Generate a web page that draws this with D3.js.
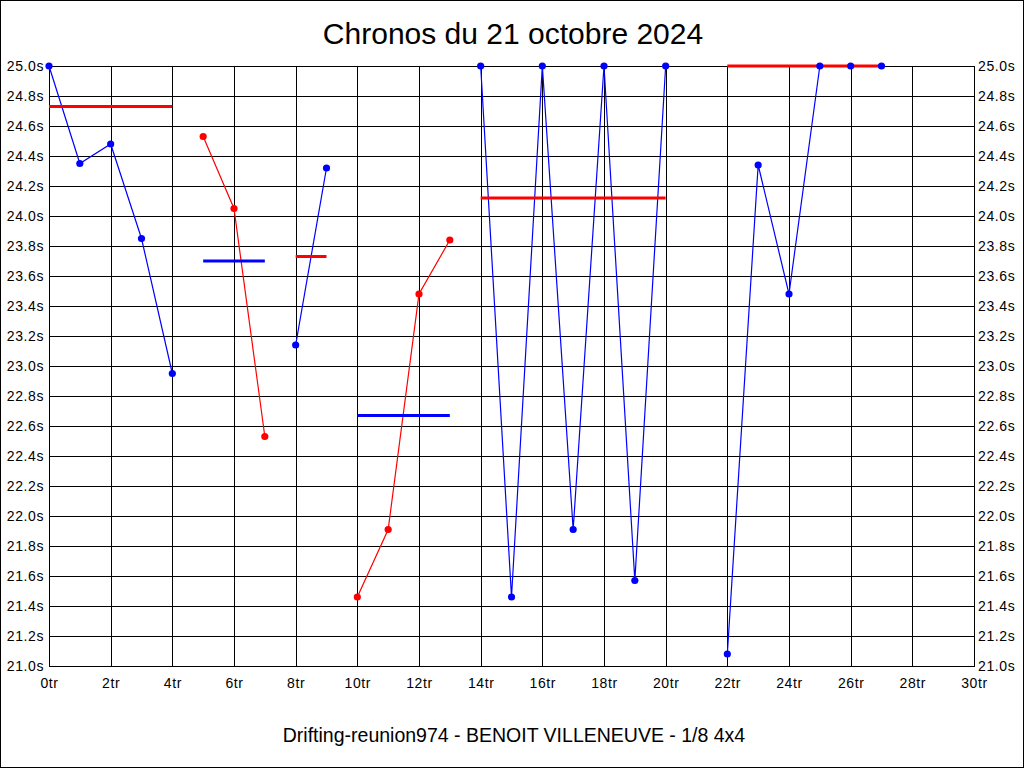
<!DOCTYPE html>
<html>
<head>
<meta charset="utf-8">
<script src="https://cdn.jsdelivr.net/npm/d3@7"></script>
<style>
  body { margin: 0; background: #fff; }
  svg { display: block; }
  text { font-family: "Liberation Sans", Arial, sans-serif; }
</style>
</head>
<body>
<div class="chrono"></div>
<script>
var title = "Chronos du 21 octobre 2024";
var subtitle = "Drifting-reunion974 - BENOIT VILLENEUVE - 1/8 4x4";

// each run: lap times, first lap index, reference line and colours
var run1 = [25.0, 24.35, 24.48, 23.85, 22.95];
var run2 = [24.53, 24.05, 22.53];
var run3 = [23.14, 24.32];
var run4 = [21.46, 21.91, 23.48, 23.84];
var run5 = [25.0, 21.46, 25.0, 21.91, 25.0, 21.57, 25.0];
var run6 = [21.08, 24.34, 23.48, 25.0, 25.0, 25.0];
var runStarts = [0, 5, 8, 10, 14, 22];
var runRefs = [24.73, 23.70, 23.73, 22.67, 24.12, 25.0];
var runColors = ["#0000ff", "#ff0000", "#0000ff", "#ff0000", "#0000ff", "#0000ff"];
var refColors = ["#ff0000", "#0000ff", "#ff0000", "#0000ff", "#ff0000", "#ff0000"];
var xTicks = d3.range(0, 31, 2);
var yTicks = d3.range(21.0, 25.01, 0.2);

var runs = [run1, run2, run3, run4, run5, run6].map(function(v, i){
    return {
        laps: v.map(function(t, j){ return {lap: runStarts[i] + j, t: t}; }),
        ref: runRefs[i],
        color: runColors[i],
        refColor: refColors[i]
    };
});

var W = 1024, H = 768;
var margin = {top: 66, right: 50, bottom: 102, left: 49};
var width = W - margin.left - margin.right,
    height = H - margin.top - margin.bottom;

var x = d3.scaleLinear().domain([0, 30]).range([0, width]);
var y = d3.scaleLinear().domain([21, 25]).range([height, 0]);

var svg = d3.select(".chrono").append("svg").attr("width", W).attr("height", H);
svg.append("rect").attr("x", 0.5).attr("y", 0.5).attr("width", W - 1).attr("height", H - 1)
    .attr("fill", "#fff").attr("stroke", "#000");

svg.append("text").attr("x", W / 2 + 1).attr("y", 44).attr("text-anchor", "middle")
    .attr("font-size", 30).text(title);
svg.append("text").attr("x", W / 2 + 2).attr("y", 742).attr("text-anchor", "middle")
    .attr("font-size", 19.5).text(subtitle);

var canvas = svg.append("g").attr("transform", "translate(" + margin.left + "," + margin.top + ")");

// grid
canvas.append("g").selectAll("line").data(xTicks).enter().append("line")
    .attr("x1", function(d){ return Math.round(x(d)) + 0.5; })
    .attr("x2", function(d){ return Math.round(x(d)) + 0.5; })
    .attr("y1", 0).attr("y2", height).attr("stroke", "#000");
canvas.append("g").selectAll("line").data(yTicks).enter().append("line")
    .attr("y1", function(d){ return Math.round(y(d)) + 0.5; })
    .attr("y2", function(d){ return Math.round(y(d)) + 0.5; })
    .attr("x1", 0).attr("x2", width).attr("stroke", "#000");

// frame
canvas.append("rect").attr("x", 0.5).attr("y", 0.5).attr("width", width).attr("height", height)
    .attr("fill", "none").attr("stroke", "#000");

// axes
var fmtY = function(d){ return d3.format(".1f")(d) + "s"; };
var yLeft = d3.axisLeft(y).tickValues(yTicks).tickFormat(fmtY).tickSize(0).tickPadding(5);
var yRight = d3.axisRight(y).tickValues(yTicks).tickFormat(fmtY).tickSize(0).tickPadding(4);
var xAxis = d3.axisBottom(x).tickValues(xTicks).tickFormat(function(d){ return d + "tr"; })
    .tickSize(0).tickPadding(12);

[canvas.append("g").call(yLeft),
 canvas.append("g").attr("transform", "translate(" + width + ",0)").call(yRight),
 canvas.append("g").attr("transform", "translate(0," + height + ")").call(xAxis)]
.forEach(function(g){
    g.select(".domain").remove();
    g.selectAll("text").attr("fill", "#000")
        .style("font-family", "'Liberation Sans', Arial, sans-serif")
        .style("font-size", "14px").style("letter-spacing", "0.6px");
});

// lines
var line = d3.line().x(function(d){ return x(d.lap); }).y(function(d){ return y(d.t); });
canvas.append("g").selectAll("path").data(runs).enter().append("path")
    .attr("d", function(d){ return line(d.laps); })
    .attr("fill", "none").attr("stroke", function(d){ return d.color; }).attr("stroke-width", 1.2);

// reference lines
canvas.append("g").selectAll("line").data(runs).enter().append("line")
    .attr("x1", function(d){ return x(d.laps[0].lap); })
    .attr("x2", function(d){ return x(d.laps[d.laps.length - 1].lap); })
    .attr("y1", function(d){ return y(d.ref); })
    .attr("y2", function(d){ return y(d.ref); })
    .attr("stroke", function(d){ return d.refColor; }).attr("stroke-width", 3);

// dots
var dots = canvas.append("g").selectAll("g").data(runs).enter().append("g")
    .attr("fill", function(d){ return d.color; });
dots.selectAll("circle").data(function(d){ return d.laps; }).enter().append("circle")
    .attr("cx", function(d){ return x(d.lap); })
    .attr("cy", function(d){ return y(d.t); })
    .attr("r", 3.6);
</script>
</body>
</html>
